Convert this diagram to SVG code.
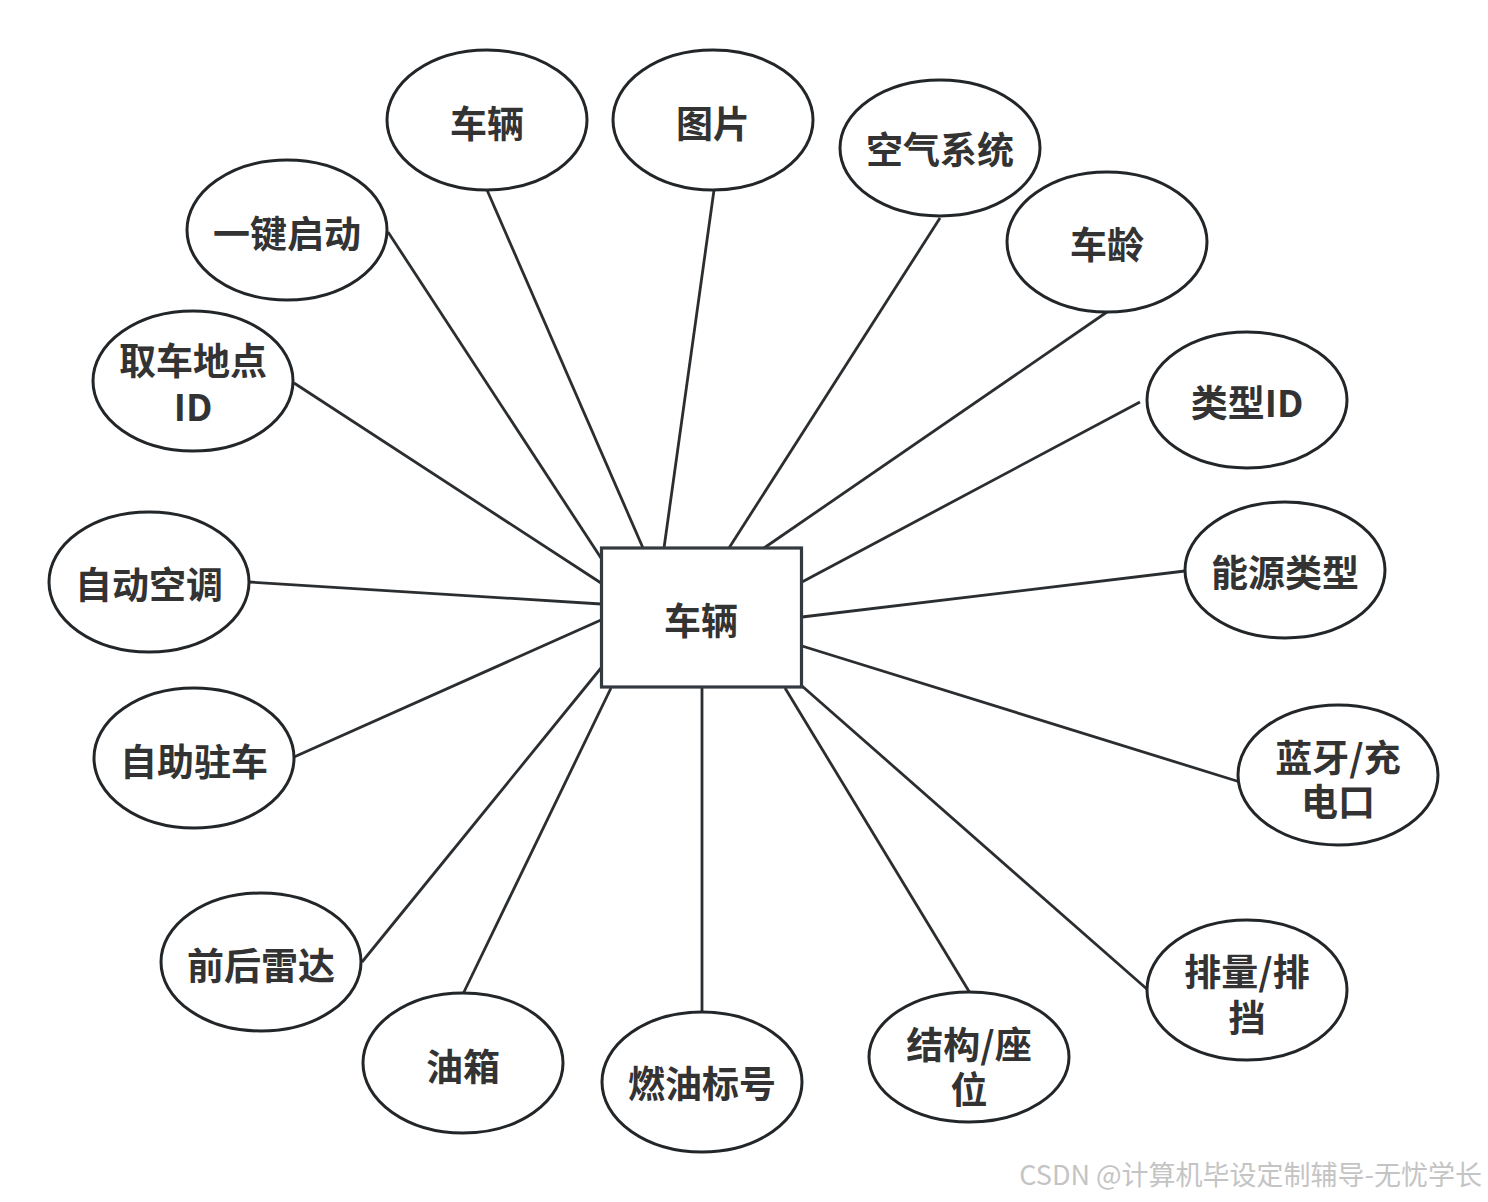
<svg xmlns="http://www.w3.org/2000/svg" width="1488" height="1202" viewBox="0 0 1488 1202">
<style>
.n ellipse{fill:#fff;stroke:#222629;stroke-width:3}
.n rect{fill:#fff;stroke:#333a40;stroke-width:3.2}
.n text{font-family:"Noto Sans CJK SC","Noto Sans",sans-serif;font-weight:bold;font-size:37px;fill:#333;text-anchor:middle;dominant-baseline:central}
#edges line{stroke:#2b2e31;stroke-width:2.8}
.wm{font-family:"Noto Sans CJK SC","Noto Sans",sans-serif;font-size:27px;fill:#c4c4c4;text-anchor:end}
</style>
<rect width="1488" height="1202" fill="#fff"/>
<g id="edges">
<line x1="388" y1="232" x2="601" y2="558"/>
<line x1="487" y1="190" x2="643" y2="548"/>
<line x1="714" y1="190" x2="664" y2="548"/>
<line x1="940" y1="218" x2="729" y2="548"/>
<line x1="1107" y1="312" x2="764" y2="548"/>
<line x1="1140" y1="402" x2="802" y2="582"/>
<line x1="1185" y1="571" x2="802" y2="617"/>
<line x1="1240" y1="782" x2="802" y2="646"/>
<line x1="1148" y1="990" x2="802" y2="686"/>
<line x1="970" y1="993" x2="785" y2="688"/>
<line x1="702" y1="1012" x2="702" y2="688"/>
<line x1="463" y1="994" x2="611" y2="688"/>
<line x1="362" y1="962" x2="601" y2="668"/>
<line x1="294" y1="757" x2="601" y2="620"/>
<line x1="249" y1="582" x2="601" y2="604"/>
<line x1="294" y1="383" x2="601" y2="583"/>
</g>
<g id="center" class="n"><rect x="601.5" y="548" width="200" height="139"/><text x="701" y="619">车辆</text></g>
<g id="a1" class="n"><ellipse cx="487" cy="120" rx="100" ry="70"/><text x="487" y="122">车辆</text></g>
<g id="a2" class="n"><ellipse cx="713" cy="120" rx="100" ry="70"/><text x="713" y="122">图片</text></g>
<g id="a3" class="n"><ellipse cx="940" cy="148" rx="100" ry="68"/><text x="940" y="148">空气系统</text></g>
<g id="a4" class="n"><ellipse cx="1107" cy="242" rx="100" ry="70"/><text x="1107" y="243">车龄</text></g>
<g id="a5" class="n"><ellipse cx="1247" cy="400" rx="100" ry="68"/><text x="1247" y="401">类型ID</text></g>
<g id="a6" class="n"><ellipse cx="1285" cy="570" rx="100" ry="68"/><text x="1285" y="571">能源类型</text></g>
<g id="a7" class="n"><ellipse cx="1338" cy="775" rx="100" ry="70"/><text x="1338" y="756">蓝牙/充<tspan x="1338" dy="44">电口</tspan></text></g>
<g id="a8" class="n"><ellipse cx="1247" cy="990" rx="100" ry="70"/><text x="1247" y="970">排量/排<tspan x="1247" dy="46">挡</tspan></text></g>
<g id="a9" class="n"><ellipse cx="969" cy="1057" rx="100" ry="65"/><text x="969" y="1043">结构/座<tspan x="969" dy="45">位</tspan></text></g>
<g id="a10" class="n"><ellipse cx="702" cy="1082" rx="100" ry="70"/><text x="702" y="1082">燃油标号</text></g>
<g id="a11" class="n"><ellipse cx="463" cy="1063" rx="100" ry="70"/><text x="463" y="1065">油箱</text></g>
<g id="a12" class="n"><ellipse cx="261" cy="962" rx="100" ry="69"/><text x="261" y="964">前后雷达</text></g>
<g id="a13" class="n"><ellipse cx="194" cy="758" rx="100" ry="70"/><text x="194" y="760">自助驻车</text></g>
<g id="a14" class="n"><ellipse cx="149" cy="582" rx="100" ry="70"/><text x="149" y="583">自动空调</text></g>
<g id="a15" class="n"><ellipse cx="193" cy="381" rx="100" ry="70"/><text x="193" y="359">取车地点<tspan x="193" dy="46">ID</tspan></text></g>
<g id="a16" class="n"><ellipse cx="287" cy="230" rx="100" ry="70"/><text x="287" y="232">一键启动</text></g>
<text class="wm" x="1482" y="1185">CSDN @计算机毕设定制辅导-无忧学长</text>
</svg>
